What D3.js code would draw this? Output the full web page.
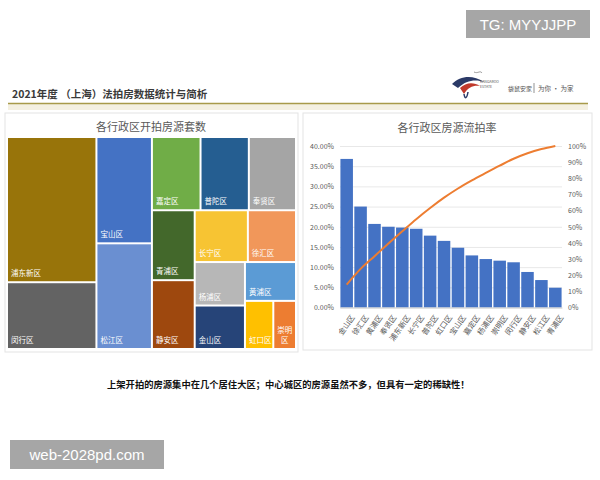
<!DOCTYPE html>
<html>
<head>
<meta charset="utf-8">
<script src="https://cdn.jsdelivr.net/npm/d3@7"></script>
<style>
  body { margin: 0; background: #fff; }
  text { font-family: "Noto Sans CJK SC", "Noto Sans", sans-serif; }
</style>
</head>
<body>
<svg id="chart" width="600" height="480"></svg>
<script>
// treemap: 各行政区开拍房源套数
var tmNames = ["浦东新区", "闵行区", "宝山区", "松江区", "嘉定区", "普陀区", "奉贤区", "青浦区",
               "静安区", "长宁区", "徐汇区", "杨浦区", "金山区", "黄浦区", "虹口区", "崇明区"];
var tmValues = [1094, 503, 497, 494, 300, 298, 291, 252, 248, 232, 210, 184, 184, 167, 115, 92];
var tmColors = ["#98740a", "#636363", "#4472c4", "#6a8fd1", "#70ad47", "#255e91", "#a5a5a5", "#43682b",
                "#9e480e", "#f7c433", "#f1975a", "#b7b7b7", "#264478", "#5b9bd5", "#ffc000", "#ed7d31"];

// pareto: 各行政区房源流拍率
var rateNames = ["金山区", "徐汇区", "黄浦区", "奉贤区", "浦东新区", "长宁区", "普陀区", "虹口区",
                 "宝山区", "嘉定区", "杨浦区", "崇明区", "闵行区", "静安区", "松江区", "青浦区"];
var rates = [0.368, 0.250, 0.207, 0.200, 0.198, 0.195, 0.178, 0.165,
             0.148, 0.129, 0.120, 0.116, 0.112, 0.088, 0.068, 0.049];
var cumulative = [0.142, 0.239, 0.318, 0.396, 0.472, 0.547, 0.616, 0.680,
                  0.737, 0.787, 0.833, 0.878, 0.921, 0.955, 0.981, 1.0];
var leftTicks = [0, 0.05, 0.10, 0.15, 0.20, 0.25, 0.30, 0.35, 0.40];
var rightTicks = [0, 0.1, 0.2, 0.3, 0.4, 0.5, 0.6, 0.7, 0.8, 0.9, 1.0];

var svg = d3.select("#chart");

// ---- page header ----
svg.append("text").attr("x", 12).attr("y", 98)
    .attr("font-size", 10.5).attr("font-weight", "bold").attr("fill", "#3a3a3a")
    .text("2021年度 （上海）法拍房数据统计与简析");
svg.append("rect").attr("x", 8).attr("y", 104).attr("width", 580).attr("height", 6).attr("fill", "#f4f0e1");
svg.append("line").attr("x1", 8).attr("x2", 588).attr("y1", 103.5).attr("y2", 103.5)
    .attr("stroke", "#a89a4a").attr("stroke-width", 1.6);

// logo
var logo = svg.append("g").attr("transform", "translate(450,70)");
logo.append("path").attr("d", "M2,14 C10,6 22,4 34,12 C26,9 16,10 8,18 Z").attr("fill", "#2b3a67");
logo.append("path").attr("d", "M10,18 C16,12 24,12 30,16 C24,15 18,17 14,24 Z").attr("fill", "#c0392b");
logo.append("path").attr("d", "M14,24 C15,30 17,28 18,22").attr("stroke", "#2b3a67").attr("fill", "none").attr("stroke-width", 1.5);
logo.append("path").attr("d", "M24,2 C28,4 30,0 32,3").attr("stroke", "#999").attr("fill", "none");
logo.append("text").attr("x", 30).attr("y", 13).attr("font-size", 3.5).attr("fill", "#555").text("KANGAROO");
logo.append("text").attr("x", 30).attr("y", 18).attr("font-size", 3.5).attr("fill", "#555").text("ESTATE");
svg.append("text").attr("x", 508).attr("y", 91).attr("font-size", 6).attr("fill", "#555").text("袋鼠安家");
svg.append("line").attr("x1", 534).attr("x2", 534).attr("y1", 83).attr("y2", 93).attr("stroke", "#777").attr("stroke-width", 0.8);
svg.append("text").attr("x", 538).attr("y", 91).attr("font-size", 6.5).attr("fill", "#555").text("为你 · 为家");

// panels
svg.append("rect").attr("x", 5).attr("y", 113).attr("width", 293).attr("height", 239)
    .attr("fill", "none").attr("stroke", "#e3e3e3");
svg.append("rect").attr("x", 303).attr("y", 113).attr("width", 289).attr("height", 237)
    .attr("fill", "none").attr("stroke", "#e3e3e3");

// ---- treemap ----
svg.append("text").attr("x", 151).attr("y", 131).attr("text-anchor", "middle")
    .attr("font-size", 11).attr("fill", "#595959").text("各行政区开拍房源套数");

// strips as Excel lays them out: direction + number of cells
var strips = [["col", 2], ["col", 2], ["row", 3], ["col", 2], ["row", 2], ["col", 2], ["row", 1], ["row", 2]];
function excelTile(parent, x0, y0, x1, y1) {
    var nodes = parent.children, i = 0, rest = parent.value;
    strips.forEach(function (s) {
        var group = nodes.slice(i, i + s[1]);
        i += s[1];
        var v = d3.sum(group, function (d) { return d.value; });
        var f = v / rest;
        rest -= v;
        var row = { children: group, value: v };
        if (s[0] === "col") {
            var xm = x0 + (x1 - x0) * f;
            d3.treemapSlice(row, x0, y0, xm, y1);
            x0 = xm;
        } else {
            var ym = y0 + (y1 - y0) * f;
            d3.treemapDice(row, x0, y0, x1, ym);
            y0 = ym;
        }
    });
}

var root = d3.hierarchy({ children: tmNames.map(function (n, i) { return { name: n, value: tmValues[i], i: i }; }) })
    .sum(function (d) { return d.value || 0; });
d3.treemap().tile(excelTile).size([287, 210]).paddingInner(2)(root);

var tm = svg.append("g").attr("transform", "translate(8,138)");
var cell = tm.selectAll("g").data(root.leaves()).enter().append("g")
    .attr("transform", function (d) { return "translate(" + d.x0 + "," + d.y0 + ")"; });
cell.append("rect")
    .attr("width", function (d) { return d.x1 - d.x0; })
    .attr("height", function (d) { return d.y1 - d.y0; })
    .attr("fill", function (d) { return tmColors[d.data.i]; });
cell.each(function (d) {
    var w = d.x1 - d.x0, h = d.y1 - d.y0, g = d3.select(this);
    var name = d.data.name;
    var lines = (name.length * 7.5 > w - 2) ? [name.slice(0, 2), name.slice(2)] : [name];
    lines.forEach(function (t, k) {
        g.append("text").attr("x", lines.length > 1 ? w / 2 : 3)
            .attr("text-anchor", lines.length > 1 ? "middle" : "start")
            .attr("y", h - 5 - (lines.length - 1 - k) * 10)
            .attr("font-size", 7.5).attr("fill", "#fff").text(t);
    });
});

// ---- pareto chart ----
svg.append("text").attr("x", 447).attr("y", 132).attr("text-anchor", "middle")
    .attr("font-size", 11).attr("fill", "#595959").text("各行政区房源流拍率");

var plotL = 340, plotR = 562, plotT = 146, plotB = 307.5;
var x = d3.scaleBand().domain(rateNames).range([plotL, plotR]).paddingInner(0.1).paddingOuter(0.03);
var yL = d3.scaleLinear().domain([0, 0.4]).range([plotB, plotT]);
var yR = d3.scaleLinear().domain([0, 1]).range([plotB, plotT]);

var grid = svg.append("g");
grid.selectAll("line").data(leftTicks).enter().append("line")
    .attr("x1", plotL).attr("x2", plotR)
    .attr("y1", function (d) { return yL(d) + 0.5; }).attr("y2", function (d) { return yL(d) + 0.5; })
    .attr("stroke", "#e2e2e2").attr("stroke-width", 0.8);

var axL = svg.append("g").attr("transform", "translate(" + plotL + ",0)")
    .call(d3.axisLeft(yL).tickValues(leftTicks).tickFormat(d3.format(".2%")).tickSize(0).tickPadding(6));
var axR = svg.append("g").attr("transform", "translate(" + plotR + ",0)")
    .call(d3.axisRight(yR).tickValues(rightTicks).tickFormat(d3.format(".0%")).tickSize(0).tickPadding(6));
[axL, axR].forEach(function (a) {
    a.select(".domain").remove();
    a.selectAll("text").attr("font-size", 7).attr("fill", "#595959")
        .style("font-family", "'Noto Sans CJK SC', sans-serif");
});

svg.append("g").selectAll("rect").data(rates).enter().append("rect")
    .attr("x", function (d, i) { return x(rateNames[i]); })
    .attr("width", x.bandwidth())
    .attr("y", function (d) { return yL(d); })
    .attr("height", function (d) { return plotB - yL(d); })
    .attr("fill", "#4472c4");

var axB = svg.append("g").attr("transform", "translate(0," + plotB + ")")
    .call(d3.axisBottom(x).tickSize(0).tickPadding(4));
axB.select(".domain").attr("stroke", "#d0d0d0");
axB.selectAll("text").attr("font-size", 7.5).attr("fill", "#595959")
    .style("font-family", "'Noto Sans CJK SC', sans-serif")
    .attr("text-anchor", "end").attr("dy", "0.35em")
    .attr("transform", "translate(3,6) rotate(-55)");

var line = d3.line()
    .x(function (d, i) { return x(rateNames[i]) + x.bandwidth() / 2; })
    .y(function (d) { return yR(d); })
    .curve(d3.curveMonotoneX);
svg.append("path").datum(cumulative).attr("d", line)
    .attr("fill", "none").attr("stroke", "#ed7d31").attr("stroke-width", 2);

// ---- caption ----
svg.append("text").attr("x", 107).attr("y", 388)
    .attr("font-size", 9.3).attr("font-weight", "bold").attr("fill", "#111")
    .text("上架开拍的房源集中在几个居住大区；中心城区的房源虽然不多，但具有一定的稀缺性！");

// ---- overlays ----
svg.append("rect").attr("x", 466).attr("y", 10).attr("width", 124).attr("height", 28).attr("fill", "#a6a6a6");
svg.append("text").attr("x", 528).attr("y", 29.5).attr("text-anchor", "middle")
    .attr("font-size", 15).attr("fill", "#fff").style("font-family", "'Liberation Sans', Arial, sans-serif")
    .text("TG: MYYJJPP");
svg.append("rect").attr("x", 10).attr("y", 440).attr("width", 154).attr("height", 29).attr("fill", "#a6a6a6");
svg.append("text").attr("x", 87).attr("y", 460).attr("text-anchor", "middle")
    .attr("font-size", 15).attr("fill", "#fff").style("font-family", "'Liberation Sans', Arial, sans-serif")
    .text("web-2028pd.com");
</script>
</body>
</html>
